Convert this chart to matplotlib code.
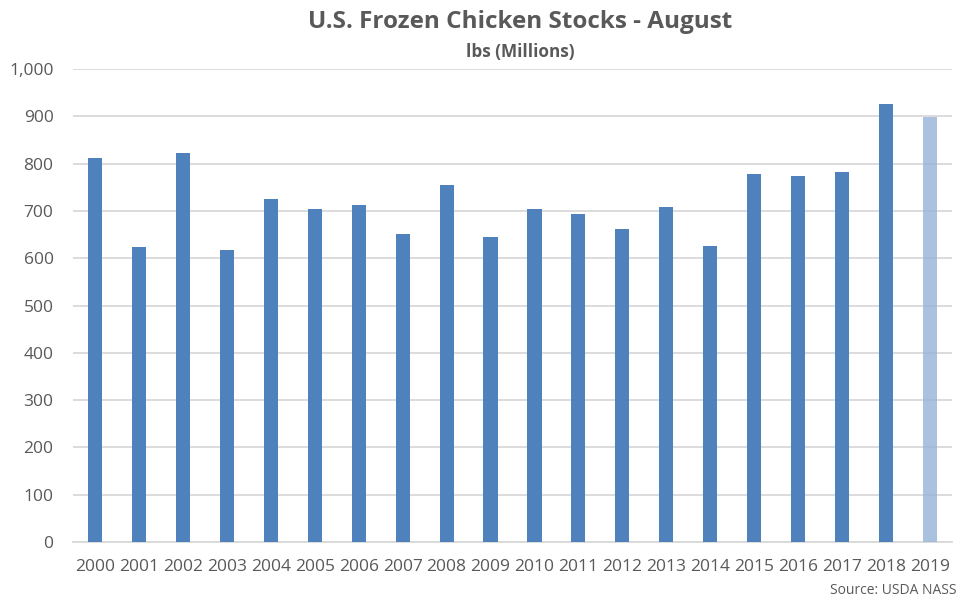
import matplotlib
matplotlib.use("Agg")
import matplotlib.pyplot as plt
from matplotlib.ticker import FuncFormatter

years = [str(y) for y in range(2000, 2020)]
stocks = [812, 624, 822, 617, 725, 704, 712, 651, 755, 645,
          704, 693, 662, 708, 626, 778, 774, 782, 926, 898]

BLUE = "#4F81BD"
LIGHT = "#95B3D7"
GRID = "#D9D9D9"
TXT = "#595959"

plt.rcParams["font.family"] = ["Open Sans", "DejaVu Sans"]

fig = plt.figure(figsize=(9.75, 6.01), dpi=100)
ax = fig.add_axes([73 / 975, 59 / 601, (952 - 73) / 975, (542 - 69) / 601])

colors = [BLUE] * (len(years) - 1) + [LIGHT]
bars = ax.bar(range(len(years)), stocks, width=0.32, color=colors, zorder=3)
bars[-1].set_alpha(0.8)

ax.set_xlim(-0.5, len(years) - 0.5)
ax.set_ylim(0, 1000)
ax.set_yticks(range(0, 1001, 100))
ax.yaxis.set_major_formatter(FuncFormatter(lambda v, p: f"{int(v):,}"))
ax.set_xticks(range(len(years)))
ax.set_xticklabels(years)

ax.grid(axis="y", color=GRID, linewidth=1.3, zorder=0)
for s in ["top", "right", "left"]:
    ax.spines[s].set_visible(False)
ax.spines["bottom"].set_color(GRID)
ax.spines["bottom"].set_linewidth(1.3)
ax.tick_params(length=0, labelsize=12.5, colors=TXT)
ax.tick_params(axis="y", pad=14)
ax.tick_params(axis="x", pad=12)

fig.text(520 / 975, 1 - 22 / 601, "U.S. Frozen Chicken Stocks - August", ha="center",
         va="center", fontsize=17.5, fontweight="bold", color=TXT)
fig.text(520 / 975, 1 - 52 / 601, "lbs (Millions)", ha="center", va="center",
         fontsize=12.3, fontweight="bold", color=TXT)
fig.text(957 / 975, 1 - 590 / 601, "Source: USDA NASS", ha="right", va="center",
         fontsize=10, color=TXT)

fig.savefig("out.png", dpi=100)
